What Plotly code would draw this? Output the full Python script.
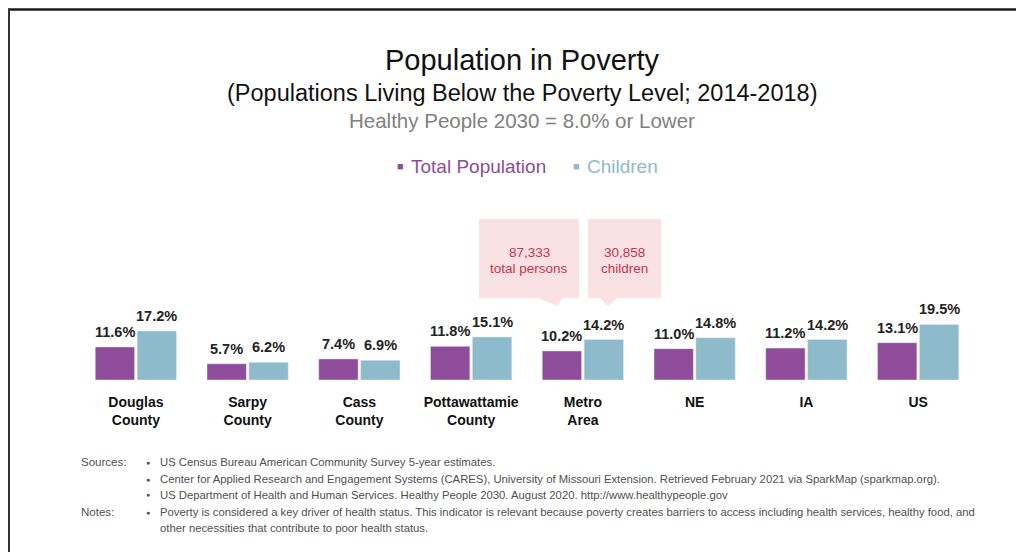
import plotly.graph_objects as go

categories = ["Douglas<br>County", "Sarpy<br>County", "Cass<br>County", "Pottawattamie<br>County",
              "Metro<br>Area", "NE", "IA", "US"]
total_population = [11.6, 5.7, 7.4, 11.8, 10.2, 11.0, 11.2, 13.1]
children = [17.2, 6.2, 6.9, 15.1, 14.2, 14.8, 14.2, 19.5]

PURPLE = "#8F4C9B"
TEAL = "#8DBBCB"
FONT = "Liberation Sans, Arial, sans-serif"

W, H = 1024, 552
OFF = 8  # page offset of the figure (body margin)
# plot area in page pixels: x 80..974, baseline y 380
L, R, T, B = 80 - OFF, W - (974 - OFF), 100 - OFF, H - (380 - OFF)
PW, PH = W - L - R, H - T - B

def px(x):
    return (x - OFF - L) / PW

def py(y):
    return (H - B - (y - OFF)) / PH

fig = go.Figure()
fig.add_trace(go.Bar(x=categories, y=total_population, name="Total Population",
                     marker_color=PURPLE))
fig.add_trace(go.Bar(x=categories, y=children, name="Children",
                     marker_color=TEAL))

ann = []
# value labels above bars (data coordinates)
BAR_OFFSET = 21
for vals, sh in ((total_population, -BAR_OFFSET), (children, BAR_OFFSET)):
    for c, v in zip(categories, vals):
        ann.append(dict(xref="x", yref="y", x=c, y=v, xshift=sh, yshift=5, yanchor="bottom",
                        text=f"{v:.1f}%", showarrow=False,
                        font=dict(family=FONT, size=14.5, color="#222222", weight="bold")))

def text(x, y, s, size, color, anchor="center", bold=False, family=FONT):
    ann.append(dict(xref="paper", yref="paper", x=px(x), y=py(y), text=s, showarrow=False,
                    xanchor=anchor, yanchor="middle",
                    font=dict(family=family, size=size, color=color, weight="bold" if bold else "normal")))

text(522, 60, "Population in Poverty", 29, "#111111")
text(522, 93, "(Populations Living Below the Poverty Level; 2014-2018)", 23.5, "#111111")
text(522, 120, "Healthy People 2030 = 8.0% or Lower", 20.5, "#808080")

# legend
text(400, 166, "■", 11, PURPLE)
text(409, 166, "Total Population", 19, PURPLE, anchor="left")
text(576, 166, "■", 11, TEAL)
text(585, 166, "Children", 19, TEAL, anchor="left")

# callouts
shapes = []
PINK = "#F9E1E4"
def callout(x0, x1, y0, y1, tx0, tx1, tipx, tipy):
    path = (f"M {px(x0)},{py(y0)} L {px(x1)},{py(y0)} L {px(x1)},{py(y1)} "
            f"L {px(tx1)},{py(y1)} L {px(tipx)},{py(tipy)} L {px(tx0)},{py(y1)} "
            f"L {px(x0)},{py(y1)} Z")
    shapes.append(dict(type="path", xref="paper", yref="paper", path=path,
                       fillcolor=PINK, line=dict(width=0), layer="below"))

callout(479, 579, 219, 298, 538, 562, 558, 306)
callout(588, 661, 219, 298, 600, 617, 608, 306)
RED = "#C8344E"
text(529, 252, "87,333", 13.5, RED)
text(529, 268, "total persons", 13.5, RED)
text(624, 252, "30,858", 13.5, RED)
text(624, 268, "children", 13.5, RED)

# sources / notes
GRAY = "#4F4F4F"
src_lines = [
    (462, "Sources:", "US Census Bureau American Community Survey 5-year estimates.", True),
    (479, "", "Center for Applied Research and Engagement Systems (CARES), University of Missouri Extension. Retrieved February 2021 via SparkMap (sparkmap.org).", True),
    (495, "", "US Department of Health and Human Services. Healthy People 2030. August 2020. http://www.healthypeople.gov", True),
    (512, "Notes:", "Poverty is considered a key driver of health status. This indicator is relevant because poverty creates barriers to access including health services, healthy food, and", True),
    (528, "", "other necessities that contribute to poor health status.", False),
]
for y, lab, s, bullet in src_lines:
    if lab:
        text(79, y, lab, 11.5, GRAY, anchor="left")
    if bullet:
        text(148, y, "●", 7, GRAY)
    text(158, y, s, 11.3, GRAY, anchor="left")

# frame
shapes.append(dict(type="line", xref="paper", yref="paper", x0=px(7), x1=px(1022), y0=py(9.5), y1=py(9.5),
                   line=dict(color="#1a1a1a", width=2.5)))
shapes.append(dict(type="line", xref="paper", yref="paper", x0=px(9), x1=px(9), y0=py(9), y1=py(560),
                   line=dict(color="#333333", width=2)))

fig.update_layout(
    width=W, height=H,
    margin=dict(l=L, r=R, t=T, b=B),
    paper_bgcolor="white", plot_bgcolor="white",
    showlegend=False,
    barmode="group", bargap=0.25, bargroupgap=0.06,
    annotations=ann, shapes=shapes,
    xaxis=dict(showline=False, showgrid=False, zeroline=False, ticks="outside", ticklen=9,
               tickcolor="rgba(0,0,0,0)",
               tickfont=dict(family=FONT, size=14, color="#111111", weight="bold")),
    yaxis=dict(visible=False, range=[0, PH / 2.85], fixedrange=True),
    font=dict(family=FONT),
)

fig.write_html("out.html")
